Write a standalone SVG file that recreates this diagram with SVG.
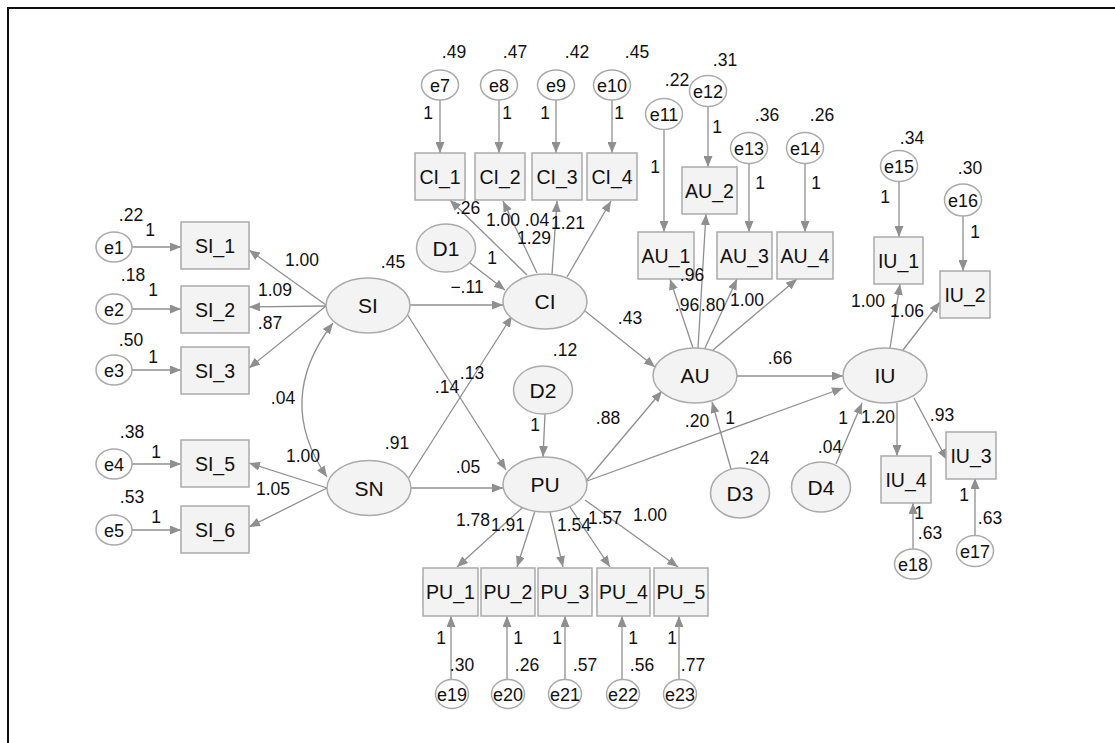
<svg xmlns="http://www.w3.org/2000/svg" width="1115" height="743" viewBox="0 0 1115 743">
<style>
.bg{fill:#fff}
.frame{fill:none;stroke:#111;stroke-width:2}
.obs{fill:#f3f3f3;stroke:#aaa;stroke-width:1.5}
.lat{fill:#f3f3f3;stroke:#aaa;stroke-width:1.5}
.err{fill:#fff;stroke:#aaa;stroke-width:1.5}
.c{fill:none;stroke:#8f8f8f;stroke-width:1.3;marker-end:url(#ah)}
.dbl{fill:none;stroke:#8f8f8f;stroke-width:1.3;marker-end:url(#ah);marker-start:url(#ah)}
text{font-family:"Liberation Sans",Arial,sans-serif;fill:#111;text-anchor:middle}
.nl{font-size:21px}
.bl{font-size:19.5px}
.el{font-size:18px}
.lb{font-size:17.5px}
</style>
<defs>
<marker id="ah" viewBox="0 0 11 9" refX="11" refY="4.5" markerWidth="11" markerHeight="9" markerUnits="userSpaceOnUse" orient="auto-start-reverse">
<path d="M0,0 L11,4.5 L0,9 z" fill="#8f8f8f"/>
</marker>
</defs>
<rect class="bg" x="0" y="0" width="1115" height="743"/>
<path class="frame" d="M8,743 V8 H1115"/>

<g id="connectors">
<line class="c" x1="132" y1="247" x2="181" y2="247"/>
<line class="c" x1="132" y1="309" x2="181" y2="309"/>
<line class="c" x1="132" y1="370" x2="181" y2="370"/>
<line class="c" x1="132" y1="464" x2="181" y2="464"/>
<line class="c" x1="132" y1="530" x2="181" y2="530"/>
<line class="c" x1="326" y1="305" x2="249" y2="250"/>
<line class="c" x1="326" y1="306" x2="249" y2="307"/>
<line class="c" x1="326" y1="306" x2="249" y2="368"/>
<line class="c" x1="327" y1="488" x2="249" y2="463"/>
<line class="c" x1="327" y1="488" x2="249" y2="527"/>
<path class="dbl" d="M333,323 Q274,400 327,477"/>
<line class="c" x1="440" y1="100" x2="440" y2="153"/>
<line class="c" x1="499" y1="100" x2="499" y2="153"/>
<line class="c" x1="556" y1="100" x2="556" y2="153"/>
<line class="c" x1="612" y1="100" x2="612" y2="153"/>
<line class="c" x1="527" y1="275" x2="450" y2="200"/>
<line class="c" x1="537" y1="273" x2="503" y2="201"/>
<line class="c" x1="552" y1="274" x2="557" y2="201"/>
<line class="c" x1="567" y1="277" x2="611" y2="201"/>
<line class="c" x1="470" y1="263" x2="505" y2="290"/>
<line class="c" x1="410" y1="305" x2="503" y2="305"/>
<line class="c" x1="408" y1="479" x2="512" y2="316"/>
<line class="c" x1="407" y1="314" x2="506" y2="470"/>
<line class="c" x1="411" y1="488" x2="503" y2="488"/>
<line class="c" x1="545" y1="414" x2="543" y2="457"/>
<line class="c" x1="585" y1="311" x2="655" y2="367"/>
<line class="c" x1="587" y1="480" x2="662" y2="391"/>
<line class="c" x1="587" y1="481" x2="843" y2="388"/>
<line class="c" x1="731" y1="469" x2="712" y2="402"/>
<line class="c" x1="737" y1="376" x2="843" y2="376"/>
<line class="c" x1="693" y1="348" x2="670" y2="279"/>
<line class="c" x1="698" y1="348" x2="706" y2="214"/>
<line class="c" x1="705" y1="348" x2="737" y2="279"/>
<line class="c" x1="713" y1="350" x2="797" y2="279"/>
<line class="c" x1="664" y1="129" x2="664" y2="232"/>
<line class="c" x1="708" y1="106" x2="708" y2="167"/>
<line class="c" x1="749" y1="163" x2="749" y2="232"/>
<line class="c" x1="805" y1="163" x2="805" y2="232"/>
<line class="c" x1="899" y1="181" x2="899" y2="237"/>
<line class="c" x1="963" y1="215" x2="963" y2="271"/>
<line class="c" x1="890" y1="348" x2="900" y2="284"/>
<line class="c" x1="903" y1="350" x2="940" y2="302"/>
<line class="c" x1="897" y1="403" x2="897" y2="456"/>
<line class="c" x1="914" y1="398" x2="947" y2="460"/>
<line class="c" x1="836" y1="464" x2="862" y2="403"/>
<line class="c" x1="913" y1="549" x2="913" y2="503"/>
<line class="c" x1="975" y1="536" x2="975" y2="478"/>
<line class="c" x1="522" y1="508" x2="457" y2="567"/>
<line class="c" x1="535" y1="511" x2="517" y2="567"/>
<line class="c" x1="550" y1="512" x2="563" y2="567"/>
<line class="c" x1="570" y1="507" x2="610" y2="567"/>
<line class="c" x1="585" y1="500" x2="678" y2="567"/>
<line class="c" x1="451" y1="680" x2="451" y2="616"/>
<line class="c" x1="507" y1="680" x2="507" y2="616"/>
<line class="c" x1="565" y1="680" x2="565" y2="616"/>
<line class="c" x1="622" y1="680" x2="622" y2="616"/>
<line class="c" x1="679" y1="680" x2="679" y2="616"/>
</g>

<g id="SI"><ellipse class="lat" cx="368" cy="305.5" rx="42" ry="27.5"/><text class="nl" x="368" y="313">SI</text></g>
<g id="SN"><ellipse class="lat" cx="369" cy="488" rx="42" ry="27.5"/><text class="nl" x="369" y="495.5">SN</text></g>
<g id="CI"><ellipse class="lat" cx="545" cy="301.5" rx="42" ry="27.5"/><text class="nl" x="545" y="309">CI</text></g>
<g id="PU"><ellipse class="lat" cx="545" cy="484.5" rx="42" ry="27.5"/><text class="nl" x="545" y="492">PU</text></g>
<g id="AU"><ellipse class="lat" cx="695" cy="375.5" rx="42" ry="27.5"/><text class="nl" x="695" y="383">AU</text></g>
<g id="IU"><ellipse class="lat" cx="885" cy="375.5" rx="42" ry="27.5"/><text class="nl" x="885" y="383">IU</text></g>
<g id="D1"><ellipse class="lat" cx="446" cy="248" rx="29.5" ry="24"/><text class="nl" x="446" y="255.5">D1</text></g>
<g id="D2"><ellipse class="lat" cx="543" cy="390" rx="29.5" ry="24"/><text class="nl" x="543" y="397.5">D2</text></g>
<g id="D3"><ellipse class="lat" cx="740" cy="493" rx="29.5" ry="25"/><text class="nl" x="740" y="500.5">D3</text></g>
<g id="D4"><ellipse class="lat" cx="821" cy="487" rx="29.5" ry="25"/><text class="nl" x="821" y="494.5">D4</text></g>

<g id="SI_1"><rect class="obs" x="181" y="222" width="68" height="47"/><text class="bl" x="215" y="252.5">SI_1</text></g>
<g id="SI_2"><rect class="obs" x="181" y="286" width="68" height="47"/><text class="bl" x="215" y="316.5">SI_2</text></g>
<g id="SI_3"><rect class="obs" x="181" y="347" width="68" height="47"/><text class="bl" x="215" y="377.5">SI_3</text></g>
<g id="SI_5"><rect class="obs" x="181" y="440" width="68" height="47"/><text class="bl" x="215" y="470.5">SI_5</text></g>
<g id="SI_6"><rect class="obs" x="181" y="506" width="68" height="47"/><text class="bl" x="215" y="536.5">SI_6</text></g>
<g id="CI_1"><rect class="obs" x="415" y="153" width="50" height="47"/><text class="bl" x="440" y="183.5">CI_1</text></g>
<g id="CI_2"><rect class="obs" x="475" y="153" width="50" height="47"/><text class="bl" x="500" y="183.5">CI_2</text></g>
<g id="CI_3"><rect class="obs" x="532" y="153" width="50" height="47"/><text class="bl" x="557" y="183.5">CI_3</text></g>
<g id="CI_4"><rect class="obs" x="587" y="153" width="50" height="47"/><text class="bl" x="612" y="183.5">CI_4</text></g>
<g id="AU_1"><rect class="obs" x="638" y="232" width="56" height="47"/><text class="bl" x="666" y="262.5">AU_1</text></g>
<g id="AU_2"><rect class="obs" x="682" y="167" width="55" height="47"/><text class="bl" x="709.5" y="197.5">AU_2</text></g>
<g id="AU_3"><rect class="obs" x="717" y="232" width="55" height="47"/><text class="bl" x="744.5" y="262.5">AU_3</text></g>
<g id="AU_4"><rect class="obs" x="777" y="232" width="56" height="47"/><text class="bl" x="805" y="262.5">AU_4</text></g>
<g id="IU_1"><rect class="obs" x="874" y="237" width="49" height="47"/><text class="bl" x="898.5" y="267.5">IU_1</text></g>
<g id="IU_2"><rect class="obs" x="940" y="271" width="50" height="47"/><text class="bl" x="965" y="301.5">IU_2</text></g>
<g id="IU_3"><rect class="obs" x="946" y="432" width="50" height="47"/><text class="bl" x="971" y="462.5">IU_3</text></g>
<g id="IU_4"><rect class="obs" x="881" y="456" width="50" height="47"/><text class="bl" x="906" y="486.5">IU_4</text></g>
<g id="PU_1"><rect class="obs" x="423" y="568" width="55" height="48"/><text class="bl" x="450.5" y="598.5">PU_1</text></g>
<g id="PU_2"><rect class="obs" x="481" y="568" width="54" height="48"/><text class="bl" x="508" y="598.5">PU_2</text></g>
<g id="PU_3"><rect class="obs" x="538" y="568" width="54" height="48"/><text class="bl" x="565" y="598.5">PU_3</text></g>
<g id="PU_4"><rect class="obs" x="597" y="568" width="53" height="48"/><text class="bl" x="623.5" y="598.5">PU_4</text></g>
<g id="PU_5"><rect class="obs" x="654" y="568" width="54" height="48"/><text class="bl" x="681" y="598.5">PU_5</text></g>

<g id="e1"><ellipse class="err" cx="114" cy="247" rx="18" ry="15"/><text class="el" x="114" y="253.5">e1</text></g>
<g id="e2"><ellipse class="err" cx="114" cy="309" rx="18" ry="15"/><text class="el" x="114" y="315.5">e2</text></g>
<g id="e3"><ellipse class="err" cx="114" cy="370" rx="18" ry="15"/><text class="el" x="114" y="376.5">e3</text></g>
<g id="e4"><ellipse class="err" cx="114" cy="464" rx="18" ry="15"/><text class="el" x="114" y="470.5">e4</text></g>
<g id="e5"><ellipse class="err" cx="114" cy="530" rx="18" ry="15"/><text class="el" x="114" y="536.5">e5</text></g>
<g id="e7"><ellipse class="err" cx="440" cy="85" rx="18.5" ry="15"/><text class="el" x="440" y="91.5">e7</text></g>
<g id="e8"><ellipse class="err" cx="499" cy="85" rx="18.5" ry="15"/><text class="el" x="499" y="91.5">e8</text></g>
<g id="e9"><ellipse class="err" cx="556" cy="85" rx="18.5" ry="15"/><text class="el" x="556" y="91.5">e9</text></g>
<g id="e10"><ellipse class="err" cx="612" cy="85" rx="18.5" ry="15"/><text class="el" x="612" y="91.5">e10</text></g>
<g id="e11"><ellipse class="err" cx="664" cy="114" rx="18.5" ry="15.5"/><text class="el" x="664" y="120.5">e11</text></g>
<g id="e12"><ellipse class="err" cx="708" cy="91" rx="18.5" ry="15.5"/><text class="el" x="708" y="97.5">e12</text></g>
<g id="e13"><ellipse class="err" cx="749" cy="148" rx="18.5" ry="15.5"/><text class="el" x="749" y="154.5">e13</text></g>
<g id="e14"><ellipse class="err" cx="805" cy="148" rx="18.5" ry="15.5"/><text class="el" x="805" y="154.5">e14</text></g>
<g id="e15"><ellipse class="err" cx="899" cy="166" rx="18.5" ry="15.5"/><text class="el" x="899" y="172.5">e15</text></g>
<g id="e16"><ellipse class="err" cx="963" cy="200" rx="18.5" ry="16"/><text class="el" x="963" y="206.5">e16</text></g>
<g id="e17"><ellipse class="err" cx="975" cy="551" rx="18.5" ry="15.5"/><text class="el" x="975" y="557.5">e17</text></g>
<g id="e18"><ellipse class="err" cx="913" cy="564" rx="18.5" ry="15"/><text class="el" x="913" y="570.5">e18</text></g>
<g id="e19"><ellipse class="err" cx="452" cy="694" rx="16.5" ry="14.5"/><text class="el" x="452" y="700.5">e19</text></g>
<g id="e20"><ellipse class="err" cx="508" cy="694" rx="16.5" ry="14.5"/><text class="el" x="508" y="700.5">e20</text></g>
<g id="e21"><ellipse class="err" cx="565" cy="694" rx="16.5" ry="14.5"/><text class="el" x="565" y="700.5">e21</text></g>
<g id="e22"><ellipse class="err" cx="623" cy="694" rx="16.5" ry="14.5"/><text class="el" x="623" y="700.5">e22</text></g>
<g id="e23"><ellipse class="err" cx="680" cy="694" rx="16.5" ry="14.5"/><text class="el" x="680" y="700.5">e23</text></g>

<g id="labels">
<text class="lb" x="131" y="221">.22</text><text class="lb" x="150" y="236">1</text>
<text class="lb" x="133" y="281">.18</text><text class="lb" x="153" y="296">1</text>
<text class="lb" x="131" y="346">.50</text><text class="lb" x="153" y="363">1</text>
<text class="lb" x="132" y="438">.38</text><text class="lb" x="156" y="458">1</text>
<text class="lb" x="132" y="503">.53</text><text class="lb" x="156" y="523">1</text>
<text class="lb" x="302" y="266">1.00</text>
<text class="lb" x="275" y="296">1.09</text>
<text class="lb" x="270" y="329">.87</text>
<text class="lb" x="393" y="268">.45</text>
<text class="lb" x="283" y="404">.04</text>
<text class="lb" x="303" y="462">1.00</text>
<text class="lb" x="273" y="495">1.05</text>
<text class="lb" x="397" y="449">.91</text>
<text class="lb" x="454" y="58">.49</text>
<text class="lb" x="515" y="58">.47</text>
<text class="lb" x="577" y="58">.42</text>
<text class="lb" x="637" y="58">.45</text>
<text class="lb" x="428" y="119">1</text>
<text class="lb" x="507" y="119">1</text>
<text class="lb" x="545" y="119">1</text>
<text class="lb" x="619" y="119">1</text>
<text class="lb" x="468" y="214">.26</text>
<text class="lb" x="503" y="226">1.00</text>
<text class="lb" x="537" y="226">.04</text>
<text class="lb" x="568" y="229">1.21</text>
<text class="lb" x="534" y="244">1.29</text>
<text class="lb" x="492" y="264">1</text>
<text class="lb" x="467" y="293">−.11</text>
<text class="lb" x="447" y="393">.14</text>
<text class="lb" x="472" y="379">.13</text>
<text class="lb" x="468" y="473">.05</text>
<text class="lb" x="565" y="356">.12</text>
<text class="lb" x="535" y="431">1</text>
<text class="lb" x="630" y="324">.43</text>
<text class="lb" x="608" y="424">.88</text>
<text class="lb" x="697" y="427">.20</text>
<text class="lb" x="730" y="424">1</text>
<text class="lb" x="757" y="464">.24</text>
<text class="lb" x="780" y="364">.66</text>
<text class="lb" x="677" y="86">.22</text>
<text class="lb" x="725" y="66">.31</text>
<text class="lb" x="767" y="121">.36</text>
<text class="lb" x="822" y="121">.26</text>
<text class="lb" x="655" y="173">1</text>
<text class="lb" x="717" y="133">1</text>
<text class="lb" x="760" y="189">1</text>
<text class="lb" x="816" y="189">1</text>
<text class="lb" x="692" y="281">.96</text>
<text class="lb" x="687" y="311">.96</text>
<text class="lb" x="713" y="311">.80</text>
<text class="lb" x="747" y="306">1.00</text>
<text class="lb" x="912" y="144">.34</text>
<text class="lb" x="970" y="174">.30</text>
<text class="lb" x="885" y="203">1</text>
<text class="lb" x="975" y="238">1</text>
<text class="lb" x="868" y="307">1.00</text>
<text class="lb" x="907" y="317">1.06</text>
<text class="lb" x="878" y="423">1.20</text>
<text class="lb" x="942" y="421">.93</text>
<text class="lb" x="843" y="424">1</text>
<text class="lb" x="830" y="453">.04</text>
<text class="lb" x="930" y="539">.63</text>
<text class="lb" x="919" y="519">1</text>
<text class="lb" x="990" y="524">.63</text>
<text class="lb" x="964" y="501">1</text>
<text class="lb" x="473" y="526">1.78</text>
<text class="lb" x="508" y="531">1.91</text>
<text class="lb" x="574" y="531">1.54</text>
<text class="lb" x="605" y="524">1.57</text>
<text class="lb" x="650" y="521">1.00</text>
<text class="lb" x="441" y="644">1</text><text class="lb" x="462" y="671">.30</text>
<text class="lb" x="518" y="644">1</text><text class="lb" x="527" y="671">.26</text>
<text class="lb" x="557" y="644">1</text><text class="lb" x="585" y="671">.57</text>
<text class="lb" x="633" y="644">1</text><text class="lb" x="642" y="671">.56</text>
<text class="lb" x="672" y="644">1</text><text class="lb" x="693" y="671">.77</text>
</g>
</svg>
